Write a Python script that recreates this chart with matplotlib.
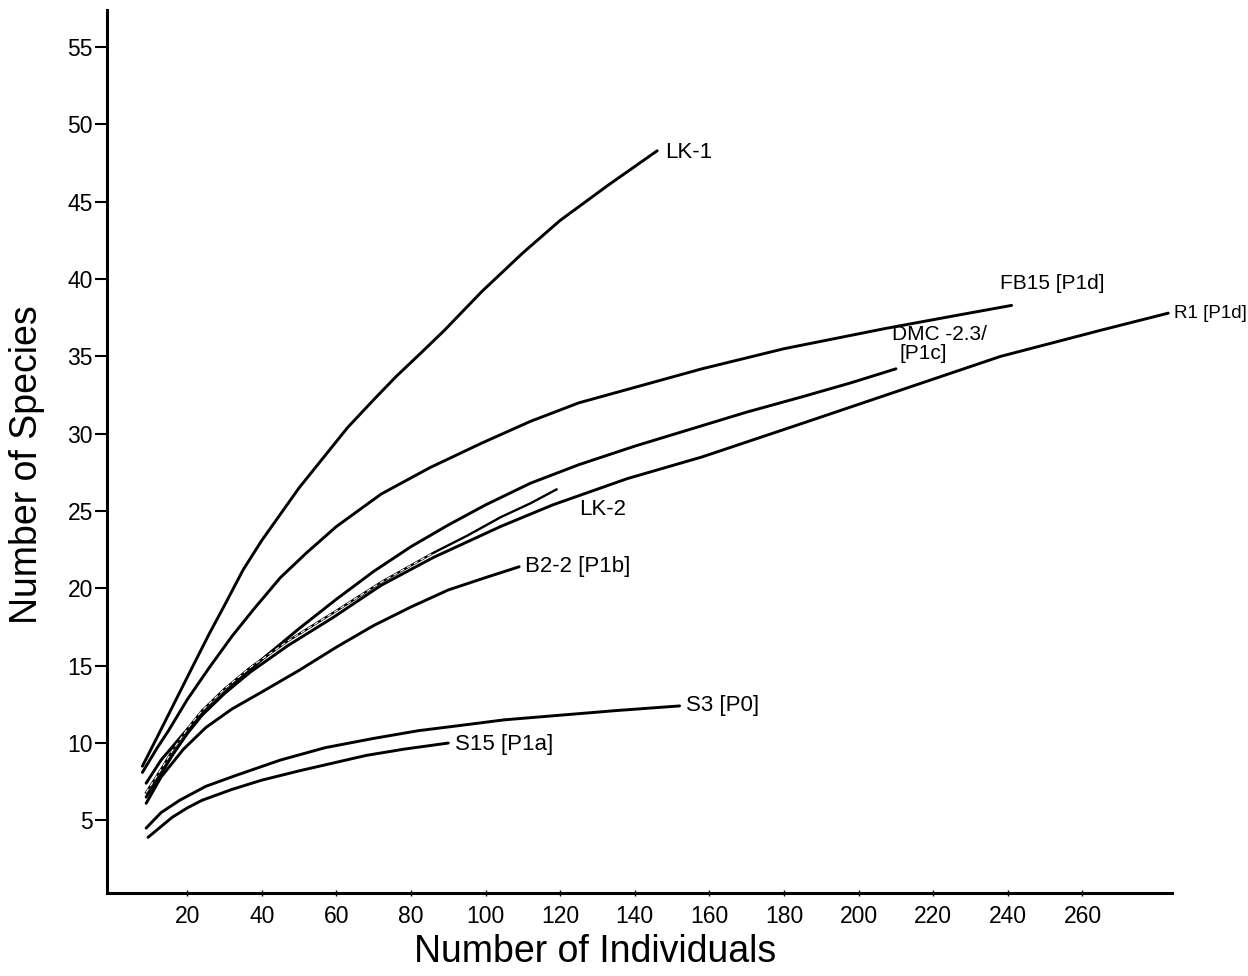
import matplotlib
matplotlib.use("Agg")
import matplotlib.pyplot as plt

plt.rcParams['font.family'] = ['Liberation Sans', 'DejaVu Sans']

# rarefaction curves (individuals, species)
lk1_x = [8, 12, 17, 22, 26, 30, 35, 40, 45, 50, 56, 63, 70, 76, 83, 89, 99, 110, 120, 133, 146]
lk1_y = [8.5, 10.4, 12.8, 15.2, 17.1, 18.9, 21.2, 23.1, 24.8, 26.5, 28.3, 30.4, 32.2, 33.7,
         35.3, 36.7, 39.2, 41.7, 43.8, 46.1, 48.3]

fb15_x = [8, 12, 15, 20, 26, 32, 38, 45, 52, 60, 72, 85, 99, 112, 125, 140, 158, 180, 207, 225, 241]
fb15_y = [8.1, 9.7, 10.8, 12.8, 14.9, 16.9, 18.7, 20.7, 22.3, 24.0, 26.1, 27.8, 29.4, 30.8,
          32.0, 33.0, 34.2, 35.5, 36.8, 37.6, 38.3]

dmc_x = [9, 13, 19, 25, 32, 40, 50, 60, 70, 80, 90, 100, 112, 125, 140, 155, 170, 185, 198, 210]
dmc_y = [7.4, 8.9, 10.6, 12.1, 13.7, 15.4, 17.4, 19.3, 21.1, 22.7, 24.1, 25.4, 26.8, 28.0,
         29.2, 30.3, 31.4, 32.4, 33.3, 34.2]

r1_x = [9, 13, 16, 20, 24, 30, 37, 47, 59, 72, 86, 95, 104, 118, 138, 158, 184, 211, 238, 265, 283]
r1_y = [6.5, 8.0, 9.2, 10.6, 11.8, 13.2, 14.6, 16.3, 18.1, 20.2, 22.0, 23.0, 24.0, 25.4,
        27.1, 28.5, 30.6, 32.8, 35.0, 36.7, 37.8]

lk2_x = [9, 13, 16, 20, 24, 30, 37, 47, 59, 72, 86, 95, 104, 112, 119]
lk2_y = [6.8, 8.3, 9.5, 10.9, 12.1, 13.5, 14.9, 16.6, 18.4, 20.4, 22.3, 23.4, 24.6, 25.5, 26.4]

b22_x = [9, 13, 19, 25, 32, 40, 50, 60, 70, 80, 90, 100, 109]
b22_y = [6.1, 7.8, 9.6, 11.0, 12.2, 13.3, 14.7, 16.2, 17.6, 18.8, 19.9, 20.7, 21.4]

s3_x = [9, 13, 18, 25, 33, 45, 57, 70, 82, 92, 105, 120, 135, 152]
s3_y = [4.5, 5.5, 6.3, 7.2, 7.9, 8.9, 9.7, 10.3, 10.8, 11.1, 11.5, 11.8, 12.1, 12.4]

s15_x = [9.5, 13, 16, 20, 24, 32, 40, 50, 59, 68, 78, 90]
s15_y = [3.9, 4.6, 5.2, 5.8, 6.3, 7.0, 7.6, 8.2, 8.7, 9.2, 9.6, 10.0]

x_ticks = list(range(20, 261, 20))
y_ticks = list(range(5, 56, 5))

fig = plt.figure(figsize=(12.48, 9.76), dpi=100)
ax = fig.add_axes([0.0857, 0.085, 0.8534, 0.9047])

lw = 2.1
for xs, ys in [(lk1_x, lk1_y), (fb15_x, fb15_y), (dmc_x, dmc_y), (r1_x, r1_y),
               (b22_x, b22_y), (s3_x, s3_y), (s15_x, s15_y)]:
    ax.plot(xs, ys, color='black', lw=lw, solid_joinstyle='round', solid_capstyle='round')

# LK-2: hollow dashed stroke along its lower part, then a thin line
ax.plot(lk2_x, lk2_y, color='black', lw=1.7, solid_joinstyle='round')
ax.plot(lk2_x[:11], lk2_y[:11], color='white', lw=0.8, ls=(0, (4, 3)))

# curve labels
fs = 16
ax.text(148, 48.2, 'LK-1', fontsize=fs, va='center')
ax.text(238, 39.7, 'FB15 [P1d]', fontsize=15, va='center')
ax.text(284.5, 37.8, 'R1 [P1d]', fontsize=13.5, va='center', clip_on=False)
ax.text(209, 36.4, 'DMC -2.3/', fontsize=15, va='center')
ax.text(211, 35.2, '[P1c]', fontsize=15, va='center')
ax.text(125, 25.1, 'LK-2', fontsize=fs, va='center')
ax.text(110.6, 21.4, 'B2-2 [P1b]', fontsize=fs, va='center')
ax.text(153.8, 12.4, 'S3 [P0]', fontsize=fs, va='center')
ax.text(91.8, 9.9, 'S15 [P1a]', fontsize=fs, va='center')

ax.set_xlim(-1.5, 284)
ax.set_ylim(0.3, 57.4)
ax.set_xticks(x_ticks)
ax.set_yticks(y_ticks)
ax.tick_params(axis='x', direction='inout', length=5, width=1, labelsize=16.5, pad=6)
ax.tick_params(axis='y', direction='out', length=9, width=1.5, labelsize=16.5, pad=1)

for side in ['top', 'right']:
    ax.spines[side].set_visible(False)
for side in ['left', 'bottom']:
    ax.spines[side].set_linewidth(2.2)

ax.set_xlabel('Number of Individuals', fontsize=27)
ax.set_ylabel('Number of Species', fontsize=27)
ax.xaxis.set_label_coords(0.458, -0.046)
ax.yaxis.set_label_coords(-0.058, 0.485)

fig.savefig('out.png', dpi=100)
